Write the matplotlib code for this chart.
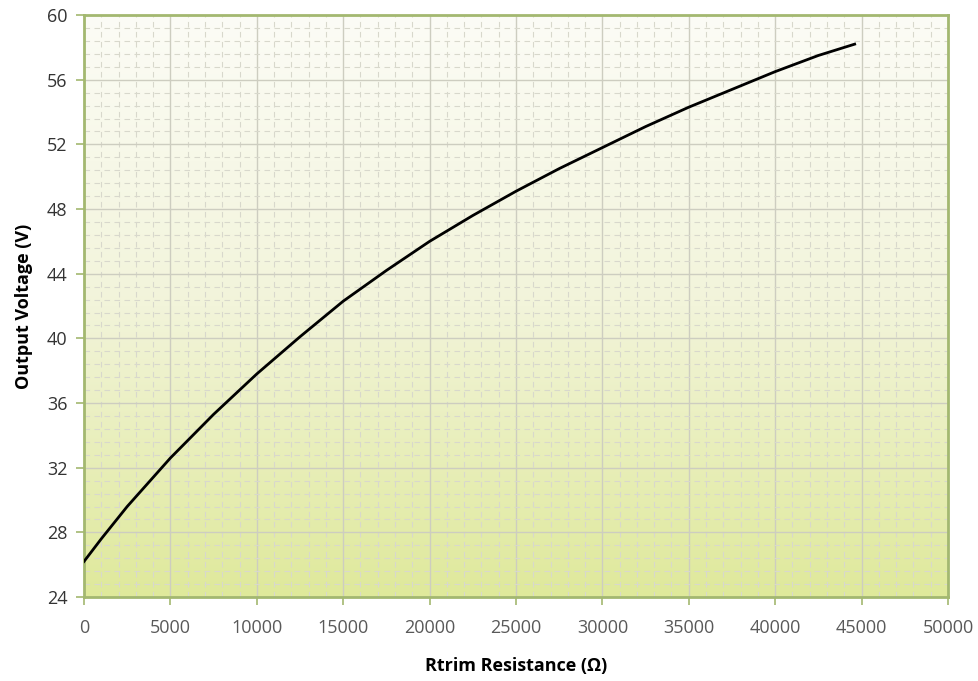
import numpy as np
import matplotlib
matplotlib.use("Agg")
import matplotlib.pyplot as plt
from matplotlib.colors import LinearSegmentedColormap
from matplotlib.ticker import MultipleLocator

# === Data ===
rtrim = [0, 1000, 2500, 5000, 7500, 9000, 10000, 12500, 15000, 17500, 20000,
         22500, 25000, 27500, 30000, 32500, 35000, 37500, 40000, 42500, 44600]
vout = [26.2, 27.6, 29.6, 32.6, 35.3, 36.8, 37.8, 40.1, 42.3, 44.2, 46.0,
        47.6, 49.1, 50.5, 51.8, 53.1, 54.3, 55.4, 56.5, 57.5, 58.2]

x_ticks = list(range(0, 50001, 5000))
y_ticks = list(range(24, 61, 4))

plt.rcParams['font.family'] = ['Open Sans', 'DejaVu Sans']

fig = plt.figure(figsize=(9.79, 6.81), dpi=100)
ax = fig.add_axes([0.0858, 0.1233, 0.8825, 0.8546])

# gradient background: yellow-green at the bottom, near white at the top
cmap = LinearSegmentedColormap.from_list("bg", ["#dfe99b", "#f2f4da", "#fcfcf6"])
grad = np.linspace(0, 1, 256).reshape(-1, 1)
ax.imshow(grad, cmap=cmap, aspect="auto", extent=[0, 50000, 24, 60],
          origin="lower", zorder=0, interpolation="bicubic")

ax.plot(rtrim, vout, color="black", lw=2, zorder=3)

ax.set_xlim(0, 50000)
ax.set_ylim(24, 60)
ax.set_xticks(x_ticks)
ax.set_yticks(y_ticks)
ax.xaxis.set_minor_locator(MultipleLocator(1000))
ax.yaxis.set_minor_locator(MultipleLocator(0.8))

ax.grid(which="major", color="#cdcdc0", lw=1, zorder=1)
ax.grid(which="minor", color="#d8d8cc", lw=0.8, ls=(0, (5, 4)), zorder=1)
ax.set_axisbelow(True)

for s in ax.spines.values():
    s.set_color("#a3b870")
    s.set_linewidth(2)

ax.tick_params(which="major", direction="out", length=6, width=1.2,
               color="#a3b870", labelsize=13, pad=6)
ax.tick_params(axis="x", labelcolor="#595959", pad=10)
ax.tick_params(axis="y", labelcolor="#333333")
ax.tick_params(which="minor", length=0)

ax.set_xlabel("Rtrim Resistance (Ω)", fontsize=13, fontweight="bold", labelpad=14)
ax.set_ylabel("Output Voltage (V)", fontsize=13, fontweight="bold", labelpad=10)

fig.savefig("out.png", dpi=100)
